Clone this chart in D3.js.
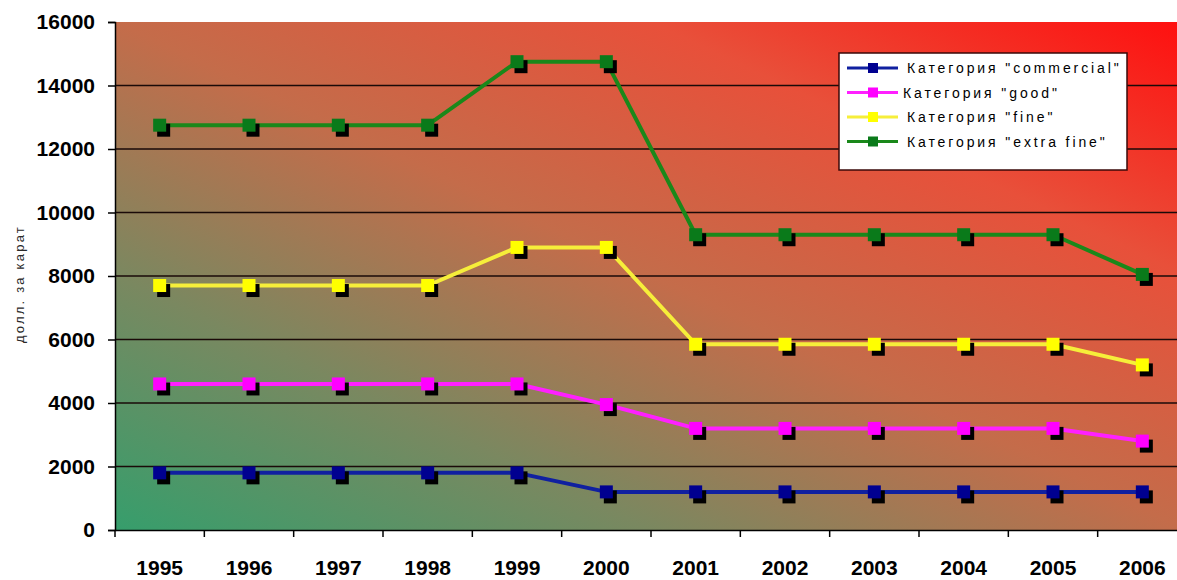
<!DOCTYPE html>
<html>
<head>
<meta charset="utf-8">
<script src="https://cdn.jsdelivr.net/npm/d3@7"></script>
<style>
  html, body { margin: 0; padding: 0; background: #ffffff; }
  svg { display: block; }
</style>
</head>
<body>
<svg id="chart" width="1177" height="580"></svg>
<script>
// Diamond prices by category, USD per carat
const years = ["1995","1996","1997","1998","1999","2000","2001","2002","2003","2004","2005","2006"];
const commercial = [1800, 1800, 1800, 1800, 1800, 1200, 1200, 1200, 1200, 1200, 1200, 1200];
const good       = [4600, 4600, 4600, 4600, 4600, 3950, 3200, 3200, 3200, 3200, 3200, 2800];
const fine       = [7700, 7700, 7700, 7700, 8900, 8900, 5850, 5850, 5850, 5850, 5850, 5200];
const extraFine  = [12750, 12750, 12750, 12750, 14750, 14750, 9300, 9300, 9300, 9300, 9300, 8050];
const seriesNames = ['Категория "commercial"', 'Категория "good"', 'Категория "fine"', 'Категория "extra fine"'];
const yTicks = [0, 2000, 4000, 6000, 8000, 10000, 12000, 14000, 16000];
const yTitle = "долл. за карат";

const series = [
  { name: seriesNames[0], values: commercial, line: "#1020a0", fill: "#000090" },
  { name: seriesNames[1], values: good,       line: "#ff20ff", fill: "#ff00ff" },
  { name: seriesNames[2], values: fine,       line: "#f6ee3a", fill: "#ffff00" },
  { name: seriesNames[3], values: extraFine,  line: "#1a881a", fill: "#0a7a1a" }
];

const svg = d3.select("#chart");
const plot = { left: 115, right: 1187, top: 22, bottom: 530 };

const x = d3.scaleBand().domain(years).range([plot.left, plot.right]).padding(0);
const y = d3.scaleLinear().domain([0, 16000]).range([plot.bottom, plot.top]);
const cx = d => x(d) + x.bandwidth() / 2;

// Plot area background: diagonal green-to-red gradient
const defs = svg.append("defs");
const grad = defs.append("linearGradient")
  .attr("id", "bg").attr("x1", 0).attr("y1", 1).attr("x2", 1).attr("y2", 0);
[[0, "#369e6c"], [0.25, "#7a8860"], [0.5, "#c46c4a"], [0.75, "#e8503a"], [1, "#ff0f0f"]]
  .forEach(([o, c]) => grad.append("stop").attr("offset", o).attr("stop-color", c));

svg.append("rect")
  .attr("x", plot.left).attr("y", plot.top)
  .attr("width", plot.right - plot.left).attr("height", plot.bottom - plot.top)
  .attr("fill", "url(#bg)");

// Horizontal gridlines
svg.append("g").selectAll("line")
  .data(yTicks.filter(v => v > 0 && v < 16000))
  .join("line")
  .attr("x1", plot.left).attr("x2", plot.right)
  .attr("y1", d => y(d)).attr("y2", d => y(d))
  .attr("stroke", "#1a0a08").attr("stroke-width", 1.5);

// Y axis
const yAxis = svg.append("g")
  .attr("transform", `translate(${plot.left},0)`)
  .call(d3.axisLeft(y).tickValues(yTicks).tickSize(7).tickPadding(13).tickFormat(d3.format("d")));
yAxis.select(".domain").attr("stroke", "#000").attr("stroke-width", 1.5);
yAxis.selectAll(".tick line").attr("stroke", "#000").attr("stroke-width", 1.5);
yAxis.selectAll(".tick text")
  .attr("font-family", "'Liberation Sans', Arial, sans-serif")
  .attr("font-size", 21).attr("font-weight", "bold").attr("fill", "#000");

// X axis: labels at category centres, ticks at category boundaries
const xAxis = svg.append("g")
  .attr("transform", `translate(0,${plot.bottom})`)
  .call(d3.axisBottom(x).tickSize(0).tickPadding(30));
xAxis.select(".domain").attr("stroke", "#000").attr("stroke-width", 1.5);
xAxis.selectAll(".tick text")
  .attr("font-family", "'Liberation Sans', Arial, sans-serif")
  .attr("font-size", 21).attr("font-weight", "bold").attr("fill", "#000");
xAxis.append("g").selectAll("line")
  .data(years)
  .join("line")
  .attr("x1", d => x(d)).attr("x2", d => x(d))
  .attr("y1", 0).attr("y2", 7)
  .attr("stroke", "#000").attr("stroke-width", 1.5);

// Y axis title
svg.append("text")
  .attr("transform", `translate(24,${(plot.top + plot.bottom) / 2 + 8}) rotate(-90)`)
  .attr("text-anchor", "middle")
  .attr("font-family", "'Liberation Sans', Arial, sans-serif")
  .attr("font-size", 13).attr("letter-spacing", 2.2)
  .attr("fill", "#2a2a2a")
  .text(yTitle);

// Series lines
const line = d3.line().x((d, i) => cx(years[i])).y(d => y(d));
const marks = svg.append("g");
marks.selectAll("path.series")
  .data(series)
  .join("path")
  .attr("class", "series")
  .attr("d", s => line(s.values))
  .attr("fill", "none")
  .attr("stroke", s => s.line)
  .attr("stroke-width", 4)
  .attr("stroke-linejoin", "round");

// Square markers with a dark drop shadow
const m = 13;
series.forEach(s => {
  const g = marks.append("g");
  g.selectAll("rect.shadow")
    .data(s.values)
    .join("rect")
    .attr("class", "shadow")
    .attr("x", (d, i) => cx(years[i]) - m / 2 + 4)
    .attr("y", d => y(d) - m / 2 + 5)
    .attr("width", m).attr("height", m)
    .attr("fill", "#000");
  g.selectAll("rect.marker")
    .data(s.values)
    .join("rect")
    .attr("class", "marker")
    .attr("x", (d, i) => cx(years[i]) - m / 2)
    .attr("y", d => y(d) - m / 2)
    .attr("width", m).attr("height", m)
    .attr("fill", s.fill);
});

// Legend
const legend = svg.append("g").attr("transform", "translate(839,53)");
legend.append("rect")
  .attr("width", 288).attr("height", 117)
  .attr("fill", "#fff").attr("stroke", "#3a0808").attr("stroke-width", 1.5);
const rows = legend.selectAll("g.row")
  .data(series)
  .join("g")
  .attr("class", "row")
  .attr("transform", (d, i) => `translate(0,${15 + i * 24.5})`);
rows.append("line")
  .attr("x1", 8).attr("x2", 59).attr("y1", 0).attr("y2", 0)
  .attr("stroke", s => s.line).attr("stroke-width", 3);
rows.append("rect")
  .attr("x", 29).attr("y", -5).attr("width", 10).attr("height", 10)
  .attr("fill", s => s.fill);
rows.append("text")
  .attr("x", (d, i) => i === 1 ? 64 : 68).attr("y", 5)
  .attr("font-family", "'Liberation Sans', Arial, sans-serif")
  .attr("font-size", 14).attr("letter-spacing", 2.9)
  .attr("fill", "#000")
  .text(s => s.name);
</script>
</body>
</html>
